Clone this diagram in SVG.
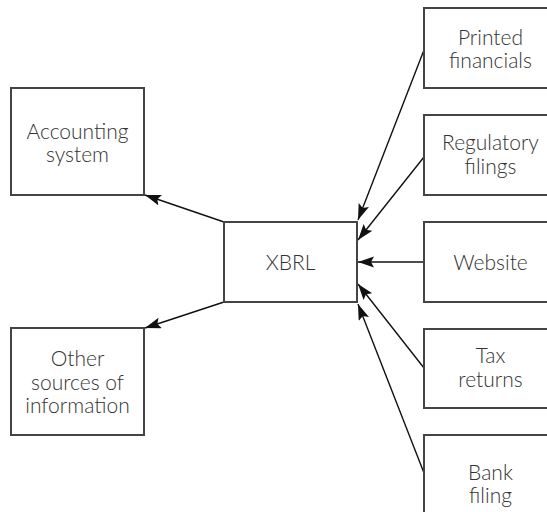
<svg xmlns="http://www.w3.org/2000/svg" width="547" height="512" viewBox="0 0 547 512">
<defs>
<marker id="ah" markerUnits="userSpaceOnUse" markerWidth="18" markerHeight="12" refX="16" refY="5.5" orient="auto">
<path d="M0,0 L16,5.5 L0,11 L3,5.5 Z" fill="#111"/>
</marker>
<style>
.box{fill:#fff;stroke:#444;stroke-width:2}
.t{font-family:Lato,"Open Sans","Liberation Sans",sans-serif;font-weight:300;font-size:21px;fill:#333;text-anchor:middle}
.c{stroke:#111;stroke-width:1.4;fill:none;marker-end:url(#ah)}
</style>
</defs>
<rect width="547" height="512" fill="#fff"/>
<g id="connectors">
<line class="c" x1="224" y1="222" x2="145" y2="195"/>
<line class="c" x1="224" y1="302" x2="145" y2="328"/>
<line class="c" x1="424" y1="50" x2="358" y2="220"/>
<line class="c" x1="424" y1="157" x2="358" y2="240"/>
<line class="c" x1="424" y1="262" x2="358" y2="262"/>
<line class="c" x1="424" y1="368" x2="358" y2="284"/>
<line class="c" x1="424" y1="473" x2="358" y2="304"/>
</g>
<g id="accounting"><rect class="box" x="11" y="88" width="133" height="107"/><text class="t" x="77.5" y="138.5">Accounting</text><text class="t" x="77.5" y="162">system</text></g>
<g id="other"><rect class="box" x="11" y="328" width="133" height="107"/><text class="t" x="77.5" y="366">Other</text><text class="t" x="77.5" y="389.5">sources of</text><text class="t" x="77.5" y="413">information</text></g>
<g id="xbrl"><rect class="box" x="224" y="222" width="133" height="80"/><text class="t" x="290.5" y="270">XBRL</text></g>
<g id="printed"><rect class="box" x="424" y="8" width="133" height="80"/><text class="t" x="490.5" y="44.5">Printed</text><text class="t" x="490.5" y="68">financials</text></g>
<g id="regulatory"><rect class="box" x="424" y="115" width="133" height="80"/><text class="t" x="490.5" y="150">Regulatory</text><text class="t" x="490.5" y="173.5">filings</text></g>
<g id="website"><rect class="box" x="424" y="222" width="133" height="80"/><text class="t" x="490.5" y="270">Website</text></g>
<g id="tax"><rect class="box" x="424" y="329" width="133" height="79"/><text class="t" x="490.5" y="363">Tax</text><text class="t" x="490.5" y="387">returns</text></g>
<g id="bank"><rect class="box" x="424" y="435" width="133" height="80"/><text class="t" x="490.5" y="479.5">Bank</text><text class="t" x="490.5" y="503">filing</text></g>
</svg>
